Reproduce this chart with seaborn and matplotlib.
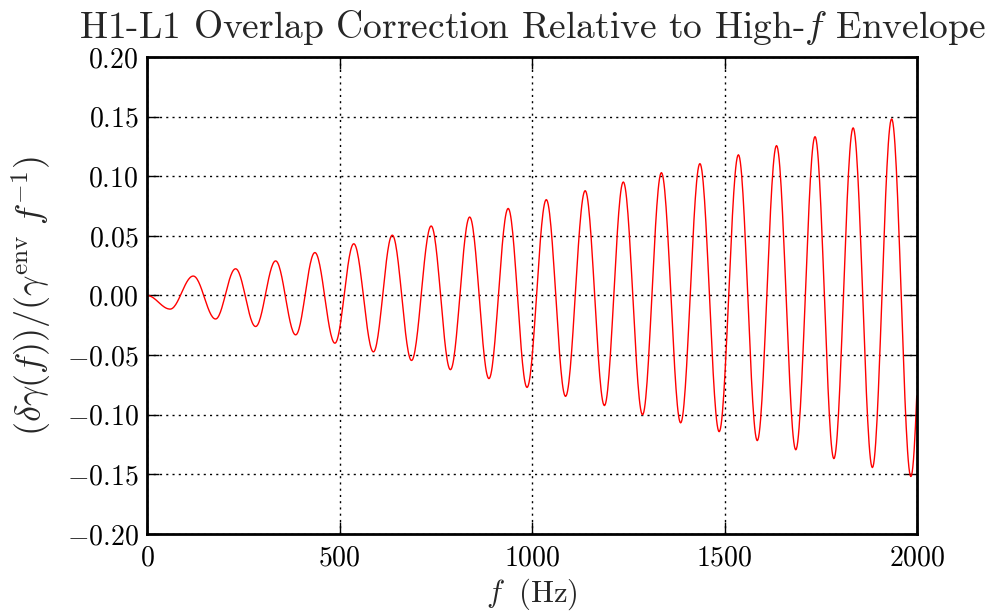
import numpy as np
import pandas as pd
import matplotlib
matplotlib.use('Agg')
import matplotlib.pyplot as plt
import seaborn as sns

# Extremos (frecuencia en Hz, valor), alternando max/min
freq_extremos = [0, 60, 120, 178, 230, 282, 334, 386, 436, 488, 537, 588,
                 637, 687, 738, 788, 838, 888, 938, 987, 1037, 1087, 1138,
                 1188, 1237, 1287, 1336, 1386, 1436, 1486, 1536, 1585, 1635,
                 1685, 1735, 1784, 1834, 1884, 1934, 1984, 2033]
valor_extremos = [0.0, -0.0114, 0.0163, -0.0197, 0.0224, -0.026, 0.029,
                  -0.033, 0.036, -0.040, 0.0434, -0.0473, 0.0506, -0.0545,
                  0.0583, -0.0622, 0.0658, -0.0697, 0.073, -0.0771, 0.0804,
                  -0.0846, 0.0879, -0.0923, 0.0952, -0.100, 0.103, -0.1068,
                  0.1106, -0.1142, 0.118, -0.1217, 0.1257, -0.1294, 0.1332,
                  -0.1368, 0.1406, -0.1443, 0.1481, -0.1518, 0.1555]

x_ticks = [0, 500, 1000, 1500, 2000]
y_ticks = [-0.20, -0.15, -0.10, -0.05, 0.00, 0.05, 0.10, 0.15, 0.20]

# Tramos suaves (medio coseno) entre extremos consecutivos
fs, vs = [], []
t = np.linspace(0, 1, 30)
for (f0, v0), (f1, v1) in zip(zip(freq_extremos[:-1], valor_extremos[:-1]),
                              zip(freq_extremos[1:], valor_extremos[1:])):
    fs.extend(f0 + (f1 - f0) * t[:-1])
    vs.extend(v0 + (v1 - v0) * (1 - np.cos(np.pi * t[:-1])) / 2)
df = pd.DataFrame({'f': fs, 'v': vs})
df = df[df['f'] <= 2000]

sns.set_style('ticks')
plt.rcParams.update({
    'font.family': 'serif',
    'font.serif': ['cmr10'],
    'mathtext.fontset': 'cm',
    'axes.formatter.use_mathtext': True,
    'axes.linewidth': 2.0,
    'axes.edgecolor': 'black',
    'xtick.direction': 'in',
    'ytick.direction': 'in',
    'xtick.top': True,
    'ytick.right': True,
    'xtick.major.size': 8.5,
    'ytick.major.size': 8.5,
    'xtick.major.width': 1.0,
    'ytick.major.width': 1.0,
    'xtick.color': 'black',
    'ytick.color': 'black',
    'xtick.labelsize': 20,
    'ytick.labelsize': 20,
    'xtick.major.pad': 8,
    'ytick.major.pad': 6,
})

fig = plt.figure(figsize=(10.03, 6.16), dpi=100)
ax = fig.add_axes([0.1466, 0.1331, 0.7677, 0.7744])
sns.lineplot(data=df, x='f', y='v', color='red', linewidth=1.0, ax=ax,
             sort=False, estimator=None)

ax.set_xlim(0, 2000)
ax.set_ylim(-0.20, 0.20)
ax.set_xticks(x_ticks)
ax.set_yticks(y_ticks)
ax.grid(True, color='black', linestyle=(0, (1.5, 3)), linewidth=1.0)
for s in ax.spines.values():
    s.set_visible(True)

ax.set_title(r'H1-L1 Overlap Correction Relative to High-$f$ Envelope',
             fontsize=27, pad=14)
ax.set_xlabel(r'$f\;$ (Hz)', fontsize=22, labelpad=4)
ax.set_ylabel(r'$(\delta\gamma(f))/(\gamma^{\rm env}\;f^{-1})$', fontsize=26,
              labelpad=9)

fig.savefig('out.png', dpi=100)
